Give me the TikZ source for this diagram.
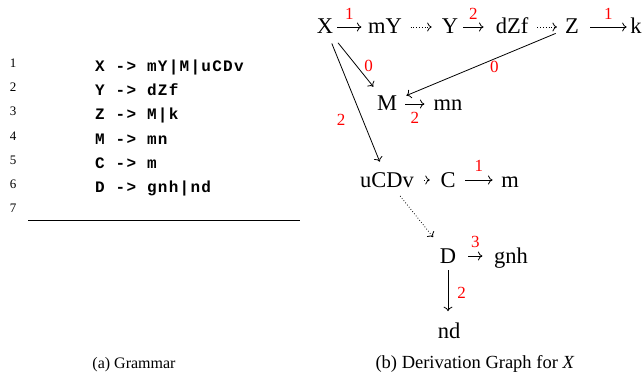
\documentclass[tikz,border=0pt]{standalone}
\usepackage{fontspec}
\setmainfont{Liberation Serif}
\newfontfamily\codefont[LetterSpace=8]{Liberation Mono}
\usetikzlibrary{arrows.meta}
\begin{document}
\begin{tikzpicture}[x=1pt,y=-1pt,
  every node/.style={inner sep=0pt},
  g/.style={font=\fontsize{22.5}{22.5}\selectfont, anchor=base},
  lab/.style={font=\fontsize{17}{17}\selectfont, text=red},
  code/.style={font=\codefont\bfseries\fontsize{16}{16}\selectfont, anchor=base west},
  num/.style={font=\fontsize{13}{13}\selectfont, anchor=base},
  captext/.style={font=\fontsize{17.5}{17.5}\selectfont, anchor=base},
  arr/.style={-{To[length=4.5pt,width=9pt]}, line width=0.8pt},
  darr/.style={arr, dotted}]
\useasboundingbox (0,0) rectangle (642,377);
% ---------- grammar ----------
\foreach \i in {1,...,7} {
  \node[num] (n\i) at (13,{68+24*(\i-1)}) {\i};
}
\node[code] (c1) at (95,72) {X -> mY|M|uCDv};
\node[code] (c2) at (95,96) {Y -> dZf};
\node[code] (c3) at (95,120) {Z -> M|k};
\node[code] (c4) at (95,144) {M -> mn};
\node[code] (c5) at (95,168) {C -> m};
\node[code] (c6) at (95,192) {D -> gnh|nd};
\coordinate (ruleL) at (28,220);
\coordinate (ruleR) at (300,220);
\draw[line width=0.8pt] (ruleL) -- (ruleR);
\node[captext, font=\fontsize{16}{16}\selectfont] (capa) at (134,368) {(a) Grammar};
% ---------- graph ----------
\node[g] (X) at (325,34) {X};
\node[g] (mY) at (385,34) {mY};
\node[g] (Y) at (450,34) {Y};
\node[g] (dZf) at (512,34) {dZf};
\node[g] (Z) at (572,34) {Z};
\node[g] (k) at (636,34) {k};
\node[g] (M) at (387,111) {M};
\node[g] (mn) at (448,111) {mn};
\node[g] (uCDv) at (387,187) {uCDv};
\node[g] (C) at (448,187) {C};
\node[g] (m) at (510,187) {m};
\node[g] (D) at (448,263) {D};
\node[g] (gnh) at (511,263) {gnh};
\node[g] (nd) at (449,338) {nd};
\node[captext, font=\fontsize{18.5}{18.5}\selectfont] (capb) at (475,368) {(b) Derivation Graph for \textit{X}};
% horizontal arrows
\draw[arr] ([xshift=4pt,yshift=7pt]X.base east) -- ([xshift=-6.5pt,yshift=7pt]mY.base west)
  node[lab,midway,above=7pt] (l1) {1};
\draw[darr] ([xshift=8.5pt,yshift=7pt]mY.base east) -- ([xshift=-10pt,yshift=7pt]Y.base west);
\draw[arr] ([xshift=5pt,yshift=7pt]Y.base east) -- ([xshift=-12pt,yshift=7pt]dZf.base west)
  node[lab,midway,above=7pt] (l2) {2};
\draw[darr] ([xshift=9pt,yshift=7pt]dZf.base east) -- ([xshift=-8pt,yshift=7pt]Z.base west);
\draw[arr] ([xshift=11pt,yshift=7pt]Z.base east) -- ([xshift=-3.5pt,yshift=7pt]k.base west)
  node[lab,midway,above=7pt] (l3) {1};
\draw[arr] ([xshift=8pt,yshift=7pt]M.base east) -- ([xshift=-9pt,yshift=7pt]mn.base west)
  node[lab,midway,below=8pt] (l4) {2};
\draw[darr] ([xshift=10pt,yshift=7pt]uCDv.base east) -- ([xshift=-10.5pt,yshift=7pt]C.base west);
\draw[arr] ([xshift=9.5pt,yshift=7pt]C.base east) -- ([xshift=-8.5pt,yshift=7pt]m.base west)
  node[lab,midway,above=8pt] (l5) {1};
\draw[arr] ([xshift=12pt,yshift=7pt]D.base east) -- ([xshift=-11.5pt,yshift=7pt]gnh.base west)
  node[lab,midway,above=8pt] (l6) {3};
% diagonal arrows
\draw[arr, shorten <=11pt, shorten >=12pt] (X) -- (M)
  node[lab,pos=0.52,right=7pt] (l7) {0};
\draw[arr, shorten <=10pt, shorten >=11pt] (X) -- (uCDv)
  node[lab,pos=0.62,left=17pt] (l8) {2};
\draw[arr, shorten <=10pt, shorten >=10pt] (Z) -- (M)
  node[lab,pos=0.42,below=2pt] (l9) {0};
\draw[darr, shorten <=11pt, shorten >=14pt] (uCDv) -- (D);
\draw[arr, shorten <=7pt, shorten >=11pt] (D.south) -- (D.south |- nd.north)
  node[lab,midway,right=9pt] (l10) {2};
\end{tikzpicture}
\end{document}
